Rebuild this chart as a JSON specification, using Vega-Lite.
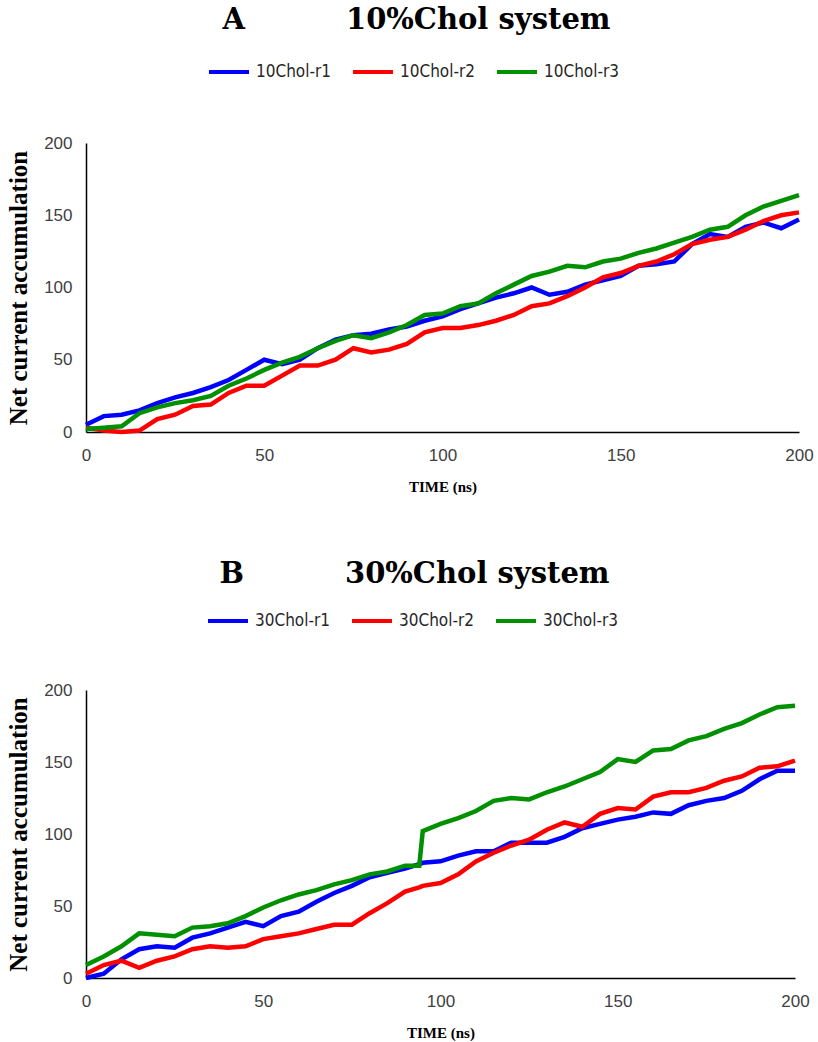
{
  "$schema": "https://vega.github.io/schema/vega-lite/v6.json",
  "background": "white",
  "padding": {"left": 6, "top": 6, "right": 5, "bottom": 5},
  "spacing": 66,
  "config": {
    "view": {"stroke": null},
    "axis": {
      "grid": false,
      "ticks": false,
      "domainColor": "#000000",
      "domainWidth": 1.5,
      "labelFont": "Liberation Sans",
      "labelFontSize": 17,
      "labelColor": "#404040",
      "titleFont": "Liberation Serif",
      "titleFontWeight": "bold",
      "titleColor": "#000000"
    },
    "axisX": {"labelPadding": 15, "titleFontSize": 15, "titlePadding": 16, "labelFlush": false},
    "axisY": {"labelPadding": 14, "titleFontSize": 25, "titlePadding": 12},
    "legend": {
      "orient": "none",
      "direction": "horizontal",
      "title": null,
      "symbolType": "stroke",
      "symbolSize": 1600,
      "symbolStrokeWidth": 4,
      "labelFont": "DejaVu Sans Condensed",
      "labelFontSize": 17,
      "labelColor": "#262626",
      "labelOffset": 5,
      "columnPadding": 14
    },
    "title": {
      "font": "DejaVu Serif",
      "fontSize": 29,
      "fontWeight": "bold",
      "color": "#000000",
      "anchor": "middle",
      "frame": "group"
    }
  },
  "resolve": {"scale": {"color": "independent"}},
  "datasets": {
    "A": [
      {"t": 0, "10Chol-r1": 5, "10Chol-r2": 3, "10Chol-r3": 2},
      {"t": 5, "10Chol-r1": 11, "10Chol-r2": 1, "10Chol-r3": 3},
      {"t": 10, "10Chol-r1": 12, "10Chol-r2": 0, "10Chol-r3": 4},
      {"t": 15, "10Chol-r1": 15, "10Chol-r2": 1, "10Chol-r3": 13},
      {"t": 20, "10Chol-r1": 20, "10Chol-r2": 9, "10Chol-r3": 17},
      {"t": 25, "10Chol-r1": 24, "10Chol-r2": 12, "10Chol-r3": 20},
      {"t": 30, "10Chol-r1": 27, "10Chol-r2": 18, "10Chol-r3": 22},
      {"t": 35, "10Chol-r1": 31, "10Chol-r2": 19, "10Chol-r3": 25},
      {"t": 40, "10Chol-r1": 36, "10Chol-r2": 27, "10Chol-r3": 32},
      {"t": 45, "10Chol-r1": 43, "10Chol-r2": 32, "10Chol-r3": 37},
      {"t": 50, "10Chol-r1": 50, "10Chol-r2": 32, "10Chol-r3": 43},
      {"t": 55, "10Chol-r1": 47, "10Chol-r2": 39, "10Chol-r3": 48},
      {"t": 60, "10Chol-r1": 50, "10Chol-r2": 46, "10Chol-r3": 52},
      {"t": 65, "10Chol-r1": 58, "10Chol-r2": 46, "10Chol-r3": 58},
      {"t": 70, "10Chol-r1": 64, "10Chol-r2": 50, "10Chol-r3": 63},
      {"t": 75, "10Chol-r1": 67, "10Chol-r2": 58, "10Chol-r3": 67},
      {"t": 80, "10Chol-r1": 68, "10Chol-r2": 55, "10Chol-r3": 65},
      {"t": 85, "10Chol-r1": 71, "10Chol-r2": 57, "10Chol-r3": 69},
      {"t": 90, "10Chol-r1": 73, "10Chol-r2": 61, "10Chol-r3": 74},
      {"t": 95, "10Chol-r1": 77, "10Chol-r2": 69, "10Chol-r3": 81},
      {"t": 100, "10Chol-r1": 80, "10Chol-r2": 72, "10Chol-r3": 82},
      {"t": 105, "10Chol-r1": 85, "10Chol-r2": 72, "10Chol-r3": 87},
      {"t": 110, "10Chol-r1": 89, "10Chol-r2": 74, "10Chol-r3": 89},
      {"t": 115, "10Chol-r1": 93, "10Chol-r2": 77, "10Chol-r3": 96},
      {"t": 120, "10Chol-r1": 96, "10Chol-r2": 81, "10Chol-r3": 102},
      {"t": 125, "10Chol-r1": 100, "10Chol-r2": 87, "10Chol-r3": 108},
      {"t": 130, "10Chol-r1": 95, "10Chol-r2": 89, "10Chol-r3": 111},
      {"t": 135, "10Chol-r1": 97, "10Chol-r2": 94, "10Chol-r3": 115},
      {"t": 140, "10Chol-r1": 102, "10Chol-r2": 100, "10Chol-r3": 114},
      {"t": 145, "10Chol-r1": 105, "10Chol-r2": 107, "10Chol-r3": 118},
      {"t": 150, "10Chol-r1": 108, "10Chol-r2": 110, "10Chol-r3": 120},
      {"t": 155, "10Chol-r1": 115, "10Chol-r2": 115, "10Chol-r3": 124},
      {"t": 160, "10Chol-r1": 116, "10Chol-r2": 118, "10Chol-r3": 127},
      {"t": 165, "10Chol-r1": 118, "10Chol-r2": 123, "10Chol-r3": 131},
      {"t": 170, "10Chol-r1": 130, "10Chol-r2": 130, "10Chol-r3": 135},
      {"t": 175, "10Chol-r1": 137, "10Chol-r2": 133, "10Chol-r3": 140},
      {"t": 180, "10Chol-r1": 135, "10Chol-r2": 135, "10Chol-r3": 142},
      {"t": 185, "10Chol-r1": 142, "10Chol-r2": 140, "10Chol-r3": 150},
      {"t": 190, "10Chol-r1": 145, "10Chol-r2": 146, "10Chol-r3": 156},
      {"t": 195, "10Chol-r1": 141, "10Chol-r2": 150, "10Chol-r3": 160},
      {"t": 200, "10Chol-r1": 147, "10Chol-r2": 152, "10Chol-r3": 164}
    ],
    "B": [
      {"t": 0, "30Chol-r1": 0, "30Chol-r2": 3, "30Chol-r3": 9},
      {"t": 5, "30Chol-r1": 3, "30Chol-r2": 9, "30Chol-r3": 15},
      {"t": 10, "30Chol-r1": 13, "30Chol-r2": 12, "30Chol-r3": 22},
      {"t": 15, "30Chol-r1": 20, "30Chol-r2": 7, "30Chol-r3": 31},
      {"t": 20, "30Chol-r1": 22, "30Chol-r2": 12, "30Chol-r3": 30},
      {"t": 25, "30Chol-r1": 21, "30Chol-r2": 15, "30Chol-r3": 29},
      {"t": 30, "30Chol-r1": 28, "30Chol-r2": 20, "30Chol-r3": 35},
      {"t": 35, "30Chol-r1": 31, "30Chol-r2": 22, "30Chol-r3": 36},
      {"t": 40, "30Chol-r1": 35, "30Chol-r2": 21, "30Chol-r3": 38},
      {"t": 45, "30Chol-r1": 39, "30Chol-r2": 22, "30Chol-r3": 43},
      {"t": 50, "30Chol-r1": 36, "30Chol-r2": 27, "30Chol-r3": 49},
      {"t": 55, "30Chol-r1": 43, "30Chol-r2": 29, "30Chol-r3": 54},
      {"t": 60, "30Chol-r1": 46, "30Chol-r2": 31, "30Chol-r3": 58},
      {"t": 65, "30Chol-r1": 53, "30Chol-r2": 34, "30Chol-r3": 61},
      {"t": 70, "30Chol-r1": 59, "30Chol-r2": 37, "30Chol-r3": 65},
      {"t": 75, "30Chol-r1": 64, "30Chol-r2": 37, "30Chol-r3": 68},
      {"t": 80, "30Chol-r1": 70, "30Chol-r2": 45, "30Chol-r3": 72},
      {"t": 85, "30Chol-r1": 73, "30Chol-r2": 52, "30Chol-r3": 74},
      {"t": 90, "30Chol-r1": 76, "30Chol-r2": 60, "30Chol-r3": 78},
      {"t": 94, "30Chol-r1": 79, "30Chol-r2": 63, "30Chol-r3": 78},
      {"t": 95, "30Chol-r1": 80, "30Chol-r2": 64, "30Chol-r3": 102},
      {"t": 100, "30Chol-r1": 81, "30Chol-r2": 66, "30Chol-r3": 107},
      {"t": 105, "30Chol-r1": 85, "30Chol-r2": 72, "30Chol-r3": 111},
      {"t": 110, "30Chol-r1": 88, "30Chol-r2": 81, "30Chol-r3": 116},
      {"t": 115, "30Chol-r1": 88, "30Chol-r2": 87, "30Chol-r3": 123},
      {"t": 120, "30Chol-r1": 94, "30Chol-r2": 92, "30Chol-r3": 125},
      {"t": 125, "30Chol-r1": 94, "30Chol-r2": 96, "30Chol-r3": 124},
      {"t": 130, "30Chol-r1": 94, "30Chol-r2": 103, "30Chol-r3": 129},
      {"t": 135, "30Chol-r1": 98, "30Chol-r2": 108, "30Chol-r3": 133},
      {"t": 140, "30Chol-r1": 104, "30Chol-r2": 105, "30Chol-r3": 138},
      {"t": 145, "30Chol-r1": 107, "30Chol-r2": 114, "30Chol-r3": 143},
      {"t": 150, "30Chol-r1": 110, "30Chol-r2": 118, "30Chol-r3": 152},
      {"t": 155, "30Chol-r1": 112, "30Chol-r2": 117, "30Chol-r3": 150},
      {"t": 160, "30Chol-r1": 115, "30Chol-r2": 126, "30Chol-r3": 158},
      {"t": 165, "30Chol-r1": 114, "30Chol-r2": 129, "30Chol-r3": 159},
      {"t": 170, "30Chol-r1": 120, "30Chol-r2": 129, "30Chol-r3": 165},
      {"t": 175, "30Chol-r1": 123, "30Chol-r2": 132, "30Chol-r3": 168},
      {"t": 180, "30Chol-r1": 125, "30Chol-r2": 137, "30Chol-r3": 173},
      {"t": 185, "30Chol-r1": 130, "30Chol-r2": 140, "30Chol-r3": 177},
      {"t": 190, "30Chol-r1": 138, "30Chol-r2": 146, "30Chol-r3": 183},
      {"t": 195, "30Chol-r1": 144, "30Chol-r2": 147, "30Chol-r3": 188},
      {"t": 200, "30Chol-r1": 144, "30Chol-r2": 151, "30Chol-r3": 189}
    ]
  },
  "vconcat": [
    {
      "width": 713,
      "height": 289,
      "title": {"text": "A\u00a0\u00a0\u00a0\u00a0\u00a0\u00a0\u00a0\u00a0\u00a0\u00a010%Chol system", "offset": 15, "dx": -26},
      "data": {"name": "A"},
      "transform": [{"fold": ["10Chol-r1", "10Chol-r2", "10Chol-r3"], "as": ["series", "value"]}],
      "mark": {"type": "line", "strokeWidth": 4.5},
      "encoding": {
        "x": {"field": "t", "type": "quantitative", "scale": {"domain": [0, 200], "nice": false}, "axis": {"values": [0, 50, 100, 150, 200], "title": "TIME (ns)"}},
        "y": {"field": "value", "type": "quantitative", "scale": {"domain": [0, 200], "nice": false}, "axis": {"values": [0, 50, 100, 150, 200], "title": "Net current accumulation"}},
        "color": {"field": "series", "type": "nominal", "scale": {"domain": ["10Chol-r1", "10Chol-r2", "10Chol-r3"], "range": ["#0000ff", "#ff0000", "#009000"]}, "legend": {"legendX": 121, "legendY": -93}}
      }
    },
    {
      "width": 709,
      "height": 288,
      "title": {"text": "B\u00a0\u00a0\u00a0\u00a0\u00a0\u00a0\u00a0\u00a0\u00a0\u00a030%Chol system", "offset": 10, "dx": -26},
      "data": {"name": "B"},
      "transform": [{"fold": ["30Chol-r1", "30Chol-r2", "30Chol-r3"], "as": ["series", "value"]}],
      "mark": {"type": "line", "strokeWidth": 4.5},
      "encoding": {
        "x": {"field": "t", "type": "quantitative", "scale": {"domain": [0, 200], "nice": false}, "axis": {"values": [0, 50, 100, 150, 200], "title": "TIME (ns)"}},
        "y": {"field": "value", "type": "quantitative", "scale": {"domain": [0, 200], "nice": false}, "axis": {"values": [0, 50, 100, 150, 200], "title": "Net current accumulation"}},
        "color": {"field": "series", "type": "nominal", "scale": {"domain": ["30Chol-r1", "30Chol-r2", "30Chol-r3"], "range": ["#0000ff", "#ff0000", "#009000"]}, "legend": {"legendX": 120, "legendY": -91}}
      }
    }
  ]
}
